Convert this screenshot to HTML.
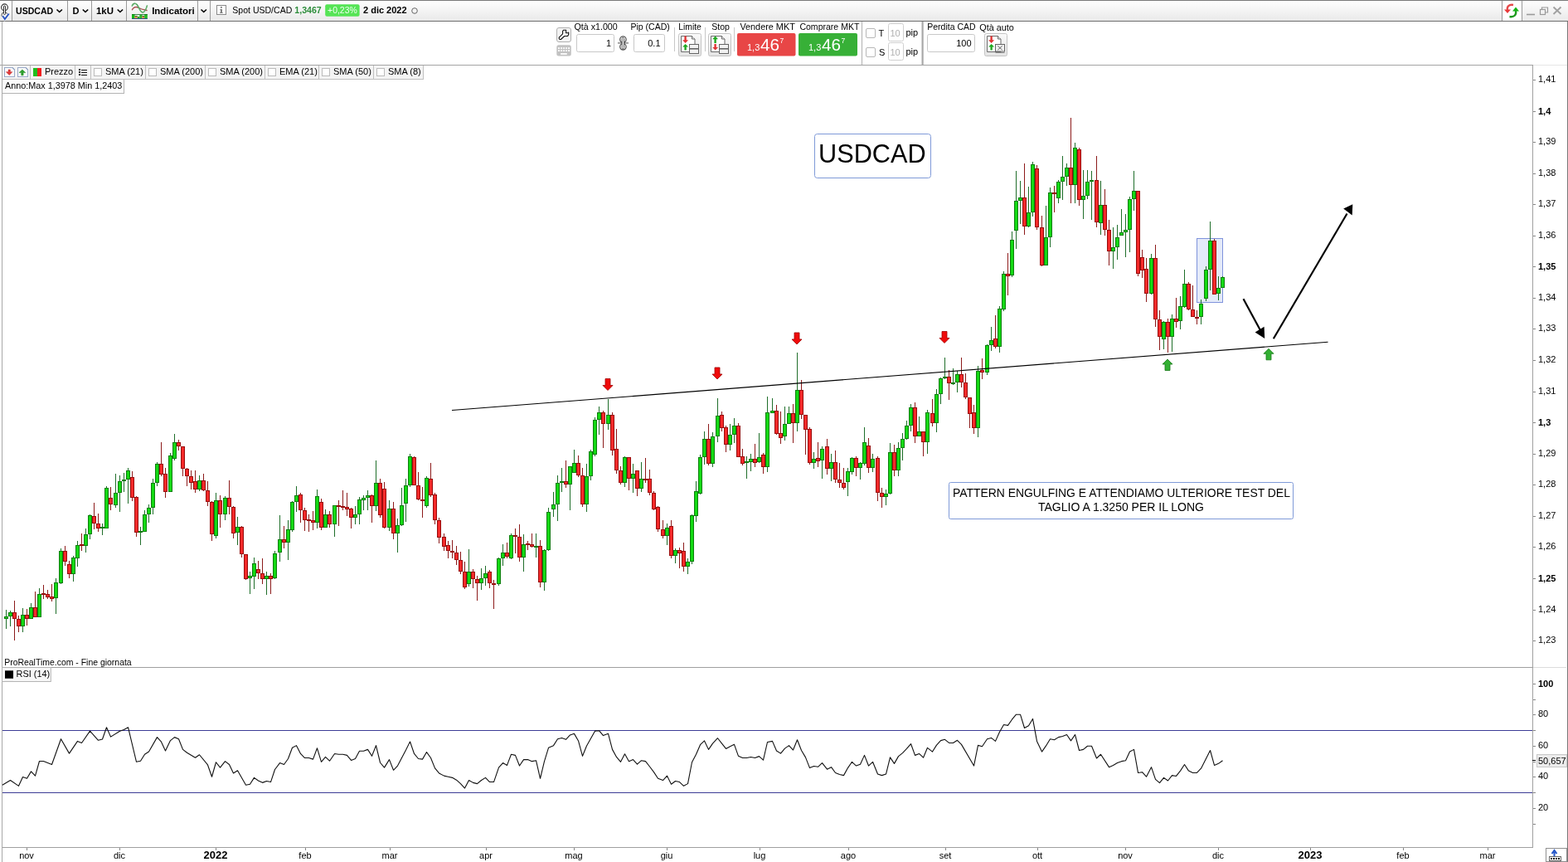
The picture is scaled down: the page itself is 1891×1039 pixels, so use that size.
<!DOCTYPE html>
<html><head><meta charset="utf-8"><title>USDCAD</title>
<style>
html,body{margin:0;padding:0;background:#fff;}
body{width:1891px;height:1039px;position:relative;overflow:hidden;font-family:"Liberation Sans",Arial,sans-serif;}
svg{position:absolute;left:0;top:0;}
text{font-family:"Liberation Sans",Arial,sans-serif;font-size:11px;fill:#000;}
.ax{font-size:11px;}
.b{font-weight:bold;}
.tm{font-size:11px;}
.tb{font-size:13px;font-weight:bold;}
.tt{font-size:11px;}
</style></head><body>
<svg class="chart" width="1891" height="1039" viewBox="0 0 1891 1039">
<g shape-rendering="crispEdges">
<path d="M0 78.5H1849" stroke="#a4a4a4"/>
<path d="M1849 78.5H1890" stroke="#e6e6e6"/>
<path d="M2.5 26V1039" stroke="#a8a8a8"/>
<path d="M1890.5 0V1039" stroke="#787878"/>
<path d="M1848.5 78V1022" stroke="#a0a0a0"/>
<path d="M3 804.5H1848" stroke="#a0a0a0"/>
<path d="M1849 804.5H1889" stroke="#dcdcdc"/>
<path d="M3 1021.5H1848" stroke="#a0a0a0"/>
<path d="M3 880.5H1848M3 955.5H1848" stroke="#3c3c96"/>
<path d="M1849 96.5 H1852" stroke="#888" /><text x="1855" y="99" class="ax">1,41</text><path d="M1849 134.5 H1852" stroke="#888" /><text x="1855" y="138" class="ax b">1,4</text><path d="M1849 171.5 H1852" stroke="#888" /><text x="1855" y="174" class="ax">1,39</text><path d="M1849 209.5 H1852" stroke="#888" /><text x="1855" y="212" class="ax">1,38</text><path d="M1849 246.5 H1852" stroke="#888" /><text x="1855" y="249" class="ax">1,37</text><path d="M1849 284.5 H1852" stroke="#888" /><text x="1855" y="287" class="ax">1,36</text><path d="M1849 321.5 H1852" stroke="#888" /><text x="1855" y="325" class="ax b">1,35</text><path d="M1849 359.5 H1852" stroke="#888" /><text x="1855" y="362" class="ax">1,34</text><path d="M1849 396.5 H1852" stroke="#888" /><text x="1855" y="399" class="ax">1,33</text><path d="M1849 434.5 H1852" stroke="#888" /><text x="1855" y="437" class="ax">1,32</text><path d="M1849 472.5 H1852" stroke="#888" /><text x="1855" y="475" class="ax">1,31</text><path d="M1849 509.5 H1852" stroke="#888" /><text x="1855" y="513" class="ax b">1,3</text><path d="M1849 547.5 H1852" stroke="#888" /><text x="1855" y="550" class="ax">1,29</text><path d="M1849 584.5 H1852" stroke="#888" /><text x="1855" y="587" class="ax">1,28</text><path d="M1849 622.5 H1852" stroke="#888" /><text x="1855" y="625" class="ax">1,27</text><path d="M1849 659.5 H1852" stroke="#888" /><text x="1855" y="662" class="ax">1,26</text><path d="M1849 697.5 H1852" stroke="#888" /><text x="1855" y="701" class="ax b">1,25</text><path d="M1849 735.5 H1852" stroke="#888" /><text x="1855" y="738" class="ax">1,24</text><path d="M1849 772.5 H1852" stroke="#888" /><text x="1855" y="775" class="ax">1,23</text><path d="M1849 993.5 H1852" stroke="#888" /><path d="M1849 974.5 H1852" stroke="#888" /><text x="1855" y="977" class="ax">20</text><path d="M1849 955.5 H1852" stroke="#888" /><path d="M1849 936.5 H1852" stroke="#888" /><text x="1855" y="939" class="ax">40</text><path d="M1849 918.5 H1852" stroke="#888" /><path d="M1849 899.5 H1852" stroke="#888" /><text x="1855" y="902" class="ax">60</text><path d="M1849 880.5 H1852" stroke="#888" /><path d="M1849 861.5 H1852" stroke="#888" /><text x="1855" y="864" class="ax">80</text><path d="M1849 843.5 H1852" stroke="#888" /><path d="M1849 824.5 H1852" stroke="#888" /><text x="1855" y="828" class="ax b">100</text><path d="M32.5 1022V1025" stroke="#888"/><text x="32" y="1035" text-anchor="middle" class="tm">nov</text><path d="M144.5 1022V1025" stroke="#888"/><text x="144" y="1035" text-anchor="middle" class="tm">dic</text><path d="M260.5 1022V1025" stroke="#888"/><text x="260" y="1035" text-anchor="middle" class="tb">2022</text><path d="M368.5 1022V1025" stroke="#888"/><text x="368" y="1035" text-anchor="middle" class="tm">feb</text><path d="M470.5 1022V1025" stroke="#888"/><text x="470" y="1035" text-anchor="middle" class="tm">mar</text><path d="M586.5 1022V1025" stroke="#888"/><text x="586" y="1035" text-anchor="middle" class="tm">apr</text><path d="M692.5 1022V1025" stroke="#888"/><text x="692" y="1035" text-anchor="middle" class="tm">mag</text><path d="M804.5 1022V1025" stroke="#888"/><text x="804" y="1035" text-anchor="middle" class="tm">giu</text><path d="M916.5 1022V1025" stroke="#888"/><text x="916" y="1035" text-anchor="middle" class="tm">lug</text><path d="M1023.5 1022V1025" stroke="#888"/><text x="1023" y="1035" text-anchor="middle" class="tm">ago</text><path d="M1140.5 1022V1025" stroke="#888"/><text x="1140" y="1035" text-anchor="middle" class="tm">set</text><path d="M1251.5 1022V1025" stroke="#888"/><text x="1251" y="1035" text-anchor="middle" class="tm">ott</text><path d="M1357.5 1022V1025" stroke="#888"/><text x="1357" y="1035" text-anchor="middle" class="tm">nov</text><path d="M1469.5 1022V1025" stroke="#888"/><text x="1469" y="1035" text-anchor="middle" class="tm">dic</text><path d="M1580.5 1022V1025" stroke="#888"/><text x="1580" y="1035" text-anchor="middle" class="tb">2023</text><path d="M1692.5 1022V1025" stroke="#888"/><text x="1692" y="1035" text-anchor="middle" class="tm">feb</text><path d="M1794.5 1022V1025" stroke="#888"/><text x="1794" y="1035" text-anchor="middle" class="tm">mar</text>
</g>
<rect x="1443.5" y="287.5" width="31" height="77" fill="#e4eaf9" stroke="#7f93dc" stroke-width="1"/>
<g shape-rendering="crispEdges"><path d="M7.5 735V758M12.5 736V755M27.5 733V762M37.5 727V746M47.5 709V744M67.5 697V740M73.5 661V704M88.5 670V701M93.5 652V683M103.5 637V666M108.5 620V650M123.5 631V645M128.5 586V637M139.5 571V612M144.5 573V617M149.5 570V593M154.5 564V607M169.5 635V657M174.5 615V641M179.5 608V630M184.5 577V620M189.5 557V586M205.5 546V593M210.5 523V555M240.5 573V592M260.5 594V649M271.5 598V627M286.5 623V657M301.5 689V716M306.5 672V710M321.5 689V717M331.5 664V698M337.5 621V677M347.5 627V675M352.5 604V641M357.5 586V617M382.5 590V637M392.5 614V636M403.5 609V647M428.5 610V632M433.5 599V632M438.5 597V615M443.5 591V615M453.5 555V616M469.5 603V640M479.5 625V666M484.5 588V634M489.5 577V629M494.5 547V587M514.5 574V612M565.5 662V707M580.5 685V711M585.5 682V706M601.5 672V706M606.5 656V682M616.5 643V674M631.5 644V689M646.5 643V672M656.5 662V712M661.5 612V664M667.5 593V623M672.5 573V628M677.5 564V593M687.5 562V615M692.5 542V570M707.5 559V617M712.5 542V579M717.5 503V550M722.5 490V524M733.5 481V518M753.5 550V587M763.5 559V594M773.5 557V593M804.5 631V657M814.5 661V679M829.5 673V692M834.5 620V680M839.5 580V629M844.5 548V596M849.5 520V560M859.5 521V563M865.5 480V533M880.5 511V543M885.5 504V534M900.5 550V577M905.5 547V568M915.5 522V558M925.5 478V569M931.5 480V498M946.5 490V531M951.5 490V511M961.5 425V520M981.5 545V565M991.5 538V577M1002.5 547V580M1022.5 564V598M1027.5 551V572M1037.5 557V578M1042.5 515V561M1052.5 547V569M1068.5 590V609M1073.5 534V596M1083.5 533V574M1088.5 522V555M1093.5 507V530M1098.5 487V520M1108.5 502V526M1118.5 494V547M1129.5 469V521M1134.5 455V487M1139.5 431V457M1149.5 444V464M1154.5 447V473M1179.5 441V527M1190.5 415V452M1195.5 394V423M1205.5 369V425M1210.5 327V375M1220.5 279V334M1225.5 206V300M1230.5 218V270M1240.5 225V274M1245.5 195V261M1261.5 248V320M1266.5 226V298M1276.5 217V245M1281.5 188V241M1286.5 197V224M1296.5 172V245M1306.5 205V264M1311.5 205V240M1316.5 206V265M1327.5 218V283M1342.5 274V324M1347.5 271V313M1352.5 252V284M1357.5 258V310M1362.5 237V304M1367.5 206V254M1388.5 306V355M1403.5 387V421M1413.5 379V424M1423.5 357V397M1428.5 325V371M1448.5 361V391M1454.5 321V363M1459.5 267V350M1469.5 333V362M1474.5 333V347" stroke="#1f6e2a" stroke-width="1" fill="none"/><path d="M17.5 724V772M22.5 742V762M32.5 734V754M42.5 713V744M52.5 705V722M57.5 711V722M62.5 704V725M78.5 658V682M83.5 676V697M98.5 643V664M113.5 606V638M118.5 619V641M133.5 587V615M159.5 568V604M164.5 598V647M194.5 533V574M199.5 564V600M215.5 530V543M220.5 538V574M225.5 564V586M230.5 567V590M235.5 567V594M245.5 571V592M250.5 580V610M255.5 604V652M265.5 597V636M276.5 579V620M281.5 610V649M291.5 634V672M296.5 668V699M311.5 676V698M316.5 673V704M326.5 691V716M342.5 634V661M362.5 594V630M367.5 612V640M372.5 620V641M377.5 616V639M387.5 601V639M397.5 616V636M408.5 603V634M413.5 591V615M418.5 594V622M423.5 612V637M448.5 596V630M458.5 577V624M463.5 581V637M474.5 605V650M499.5 550V585M504.5 569V603M509.5 587V624M519.5 558V599M524.5 594V632M529.5 624V655M535.5 643V664M540.5 652V673M545.5 651V673M550.5 658V681M555.5 665V692M560.5 677V710M570.5 686V709M575.5 694V724M590.5 687V709M595.5 699V734M611.5 654V673M621.5 637V667M626.5 632V677M636.5 652V663M641.5 643V660M651.5 651V708M682.5 555V588M697.5 549V575M702.5 564V611M727.5 495V540M738.5 497V549M743.5 517V571M748.5 562V584M758.5 551V591M768.5 567V598M778.5 552V582M783.5 566V597M788.5 592V615M793.5 610V641M799.5 627V649M809.5 627V673M819.5 660V685M824.5 654V689M854.5 511V561M870.5 496V520M875.5 513V545M890.5 510V551M895.5 541V561M910.5 535V563M920.5 546V571M936.5 488V524M941.5 496V535M956.5 487V534M966.5 458V505M971.5 500V548M976.5 515V560M986.5 533V563M997.5 529V572M1007.5 543V582M1012.5 558V588M1017.5 564V590M1032.5 550V574M1047.5 528V570M1058.5 550V604M1063.5 588V612M1078.5 536V574M1103.5 485V534M1113.5 520V550M1124.5 481V514M1144.5 446V482M1159.5 431V467M1164.5 450V481M1169.5 479V516M1174.5 488V523M1184.5 432V457M1200.5 380V420M1215.5 305V356M1235.5 197V283M1250.5 199V277M1256.5 260V321M1271.5 224V256M1291.5 142V245M1301.5 178V248M1322.5 188V274M1332.5 228V284M1337.5 265V320M1372.5 230V333M1377.5 301V335M1382.5 311V364M1393.5 295V394M1398.5 374V422M1408.5 384V425M1418.5 359V395M1433.5 340V374M1438.5 344V382M1443.5 374V391M1464.5 288V355" stroke="#8c1a1a" stroke-width="1" fill="none"/><rect x="5" y="743" width="5" height="3" fill="#0e7e0e"/><rect x="6" y="744" width="3" height="1" fill="#14da14"/><rect x="10" y="738" width="5" height="5" fill="#0e7e0e"/><rect x="11" y="739" width="3" height="3" fill="#14da14"/><rect x="15" y="738" width="5" height="8" fill="#980c0c"/><rect x="16" y="739" width="3" height="6" fill="#f42a2a"/><rect x="20" y="746" width="5" height="9" fill="#980c0c"/><rect x="21" y="747" width="3" height="7" fill="#f42a2a"/><rect x="25" y="741" width="5" height="14" fill="#0e7e0e"/><rect x="26" y="742" width="3" height="12" fill="#14da14"/><rect x="30" y="741" width="5" height="5" fill="#980c0c"/><rect x="31" y="742" width="3" height="3" fill="#f42a2a"/><rect x="35" y="732" width="5" height="14" fill="#0e7e0e"/><rect x="36" y="733" width="3" height="12" fill="#14da14"/><rect x="40" y="732" width="5" height="12" fill="#980c0c"/><rect x="41" y="733" width="3" height="10" fill="#f42a2a"/><rect x="45" y="716" width="5" height="28" fill="#0e7e0e"/><rect x="46" y="717" width="3" height="26" fill="#14da14"/><rect x="50" y="715" width="5" height="2" fill="#980c0c"/><rect x="55" y="716" width="5" height="4" fill="#980c0c"/><rect x="56" y="717" width="3" height="2" fill="#f42a2a"/><rect x="60" y="719" width="5" height="3" fill="#980c0c"/><rect x="61" y="720" width="3" height="1" fill="#f42a2a"/><rect x="65" y="702" width="5" height="19" fill="#0e7e0e"/><rect x="66" y="703" width="3" height="17" fill="#14da14"/><rect x="71" y="664" width="5" height="39" fill="#0e7e0e"/><rect x="72" y="665" width="3" height="37" fill="#14da14"/><rect x="76" y="664" width="5" height="13" fill="#980c0c"/><rect x="77" y="665" width="3" height="11" fill="#f42a2a"/><rect x="81" y="680" width="5" height="12" fill="#980c0c"/><rect x="82" y="681" width="3" height="10" fill="#f42a2a"/><rect x="86" y="672" width="5" height="20" fill="#0e7e0e"/><rect x="87" y="673" width="3" height="18" fill="#14da14"/><rect x="91" y="657" width="5" height="16" fill="#0e7e0e"/><rect x="92" y="658" width="3" height="14" fill="#14da14"/><rect x="96" y="656" width="5" height="2" fill="#980c0c"/><rect x="101" y="644" width="5" height="14" fill="#0e7e0e"/><rect x="102" y="645" width="3" height="12" fill="#14da14"/><rect x="106" y="621" width="5" height="23" fill="#0e7e0e"/><rect x="107" y="622" width="3" height="21" fill="#14da14"/><rect x="111" y="622" width="5" height="9" fill="#980c0c"/><rect x="112" y="623" width="3" height="7" fill="#f42a2a"/><rect x="116" y="631" width="5" height="6" fill="#980c0c"/><rect x="117" y="632" width="3" height="4" fill="#f42a2a"/><rect x="121" y="635" width="5" height="2" fill="#0e7e0e"/><rect x="126" y="588" width="5" height="49" fill="#0e7e0e"/><rect x="127" y="589" width="3" height="47" fill="#14da14"/><rect x="131" y="600" width="5" height="8" fill="#980c0c"/><rect x="132" y="601" width="3" height="6" fill="#f42a2a"/><rect x="137" y="594" width="5" height="15" fill="#0e7e0e"/><rect x="138" y="595" width="3" height="13" fill="#14da14"/><rect x="142" y="580" width="5" height="14" fill="#0e7e0e"/><rect x="143" y="581" width="3" height="12" fill="#14da14"/><rect x="147" y="578" width="5" height="2" fill="#0e7e0e"/><rect x="152" y="567" width="5" height="11" fill="#0e7e0e"/><rect x="153" y="568" width="3" height="9" fill="#14da14"/><rect x="157" y="575" width="5" height="25" fill="#980c0c"/><rect x="158" y="576" width="3" height="23" fill="#f42a2a"/><rect x="162" y="599" width="5" height="43" fill="#980c0c"/><rect x="163" y="600" width="3" height="41" fill="#f42a2a"/><rect x="167" y="640" width="5" height="2" fill="#0e7e0e"/><rect x="172" y="620" width="5" height="21" fill="#0e7e0e"/><rect x="173" y="621" width="3" height="19" fill="#14da14"/><rect x="177" y="612" width="5" height="8" fill="#0e7e0e"/><rect x="178" y="613" width="3" height="6" fill="#14da14"/><rect x="182" y="582" width="5" height="30" fill="#0e7e0e"/><rect x="183" y="583" width="3" height="28" fill="#14da14"/><rect x="187" y="559" width="5" height="23" fill="#0e7e0e"/><rect x="188" y="560" width="3" height="21" fill="#14da14"/><rect x="192" y="559" width="5" height="13" fill="#980c0c"/><rect x="193" y="560" width="3" height="11" fill="#f42a2a"/><rect x="197" y="571" width="5" height="22" fill="#980c0c"/><rect x="198" y="572" width="3" height="20" fill="#f42a2a"/><rect x="203" y="549" width="5" height="44" fill="#0e7e0e"/><rect x="204" y="550" width="3" height="42" fill="#14da14"/><rect x="208" y="533" width="5" height="20" fill="#0e7e0e"/><rect x="209" y="534" width="3" height="18" fill="#14da14"/><rect x="213" y="533" width="5" height="5" fill="#980c0c"/><rect x="214" y="534" width="3" height="3" fill="#f42a2a"/><rect x="218" y="538" width="5" height="27" fill="#980c0c"/><rect x="219" y="539" width="3" height="25" fill="#f42a2a"/><rect x="223" y="565" width="5" height="9" fill="#980c0c"/><rect x="224" y="566" width="3" height="7" fill="#f42a2a"/><rect x="228" y="574" width="5" height="8" fill="#980c0c"/><rect x="229" y="575" width="3" height="6" fill="#f42a2a"/><rect x="233" y="580" width="5" height="10" fill="#980c0c"/><rect x="234" y="581" width="3" height="8" fill="#f42a2a"/><rect x="238" y="579" width="5" height="11" fill="#0e7e0e"/><rect x="239" y="580" width="3" height="9" fill="#14da14"/><rect x="243" y="579" width="5" height="12" fill="#980c0c"/><rect x="244" y="580" width="3" height="10" fill="#f42a2a"/><rect x="248" y="591" width="5" height="14" fill="#980c0c"/><rect x="249" y="592" width="3" height="12" fill="#f42a2a"/><rect x="253" y="605" width="5" height="39" fill="#980c0c"/><rect x="254" y="606" width="3" height="37" fill="#f42a2a"/><rect x="258" y="603" width="5" height="43" fill="#0e7e0e"/><rect x="259" y="604" width="3" height="41" fill="#14da14"/><rect x="263" y="603" width="5" height="17" fill="#980c0c"/><rect x="264" y="604" width="3" height="15" fill="#f42a2a"/><rect x="269" y="600" width="5" height="20" fill="#0e7e0e"/><rect x="270" y="601" width="3" height="18" fill="#14da14"/><rect x="274" y="600" width="5" height="11" fill="#980c0c"/><rect x="275" y="601" width="3" height="9" fill="#f42a2a"/><rect x="279" y="611" width="5" height="32" fill="#980c0c"/><rect x="280" y="612" width="3" height="30" fill="#f42a2a"/><rect x="284" y="635" width="5" height="7" fill="#0e7e0e"/><rect x="285" y="636" width="3" height="5" fill="#14da14"/><rect x="289" y="635" width="5" height="33" fill="#980c0c"/><rect x="290" y="636" width="3" height="31" fill="#f42a2a"/><rect x="294" y="668" width="5" height="30" fill="#980c0c"/><rect x="295" y="669" width="3" height="28" fill="#f42a2a"/><rect x="299" y="694" width="5" height="3" fill="#0e7e0e"/><rect x="300" y="695" width="3" height="1" fill="#14da14"/><rect x="304" y="679" width="5" height="16" fill="#0e7e0e"/><rect x="305" y="680" width="3" height="14" fill="#14da14"/><rect x="309" y="686" width="5" height="5" fill="#980c0c"/><rect x="310" y="687" width="3" height="3" fill="#f42a2a"/><rect x="314" y="691" width="5" height="7" fill="#980c0c"/><rect x="315" y="692" width="3" height="5" fill="#f42a2a"/><rect x="319" y="694" width="5" height="4" fill="#0e7e0e"/><rect x="320" y="695" width="3" height="2" fill="#14da14"/><rect x="324" y="694" width="5" height="4" fill="#980c0c"/><rect x="325" y="695" width="3" height="2" fill="#f42a2a"/><rect x="329" y="667" width="5" height="30" fill="#0e7e0e"/><rect x="330" y="668" width="3" height="28" fill="#14da14"/><rect x="335" y="650" width="5" height="16" fill="#0e7e0e"/><rect x="336" y="651" width="3" height="14" fill="#14da14"/><rect x="340" y="650" width="5" height="4" fill="#980c0c"/><rect x="341" y="651" width="3" height="2" fill="#f42a2a"/><rect x="345" y="638" width="5" height="16" fill="#0e7e0e"/><rect x="346" y="639" width="3" height="14" fill="#14da14"/><rect x="350" y="605" width="5" height="34" fill="#0e7e0e"/><rect x="351" y="606" width="3" height="32" fill="#14da14"/><rect x="355" y="597" width="5" height="8" fill="#0e7e0e"/><rect x="356" y="598" width="3" height="6" fill="#14da14"/><rect x="360" y="596" width="5" height="19" fill="#980c0c"/><rect x="361" y="597" width="3" height="17" fill="#f42a2a"/><rect x="365" y="615" width="5" height="12" fill="#980c0c"/><rect x="366" y="616" width="3" height="10" fill="#f42a2a"/><rect x="370" y="626" width="5" height="2" fill="#980c0c"/><rect x="375" y="627" width="5" height="3" fill="#980c0c"/><rect x="376" y="628" width="3" height="1" fill="#f42a2a"/><rect x="380" y="598" width="5" height="32" fill="#0e7e0e"/><rect x="381" y="599" width="3" height="30" fill="#14da14"/><rect x="385" y="605" width="5" height="31" fill="#980c0c"/><rect x="386" y="606" width="3" height="29" fill="#f42a2a"/><rect x="390" y="620" width="5" height="16" fill="#0e7e0e"/><rect x="391" y="621" width="3" height="14" fill="#14da14"/><rect x="395" y="620" width="5" height="12" fill="#980c0c"/><rect x="396" y="621" width="3" height="10" fill="#f42a2a"/><rect x="401" y="609" width="5" height="23" fill="#0e7e0e"/><rect x="402" y="610" width="3" height="21" fill="#14da14"/><rect x="406" y="609" width="5" height="2" fill="#980c0c"/><rect x="411" y="610" width="5" height="2" fill="#980c0c"/><rect x="416" y="611" width="5" height="3" fill="#980c0c"/><rect x="417" y="612" width="3" height="1" fill="#f42a2a"/><rect x="421" y="613" width="5" height="11" fill="#980c0c"/><rect x="422" y="614" width="3" height="9" fill="#f42a2a"/><rect x="426" y="620" width="5" height="4" fill="#0e7e0e"/><rect x="427" y="621" width="3" height="2" fill="#14da14"/><rect x="431" y="602" width="5" height="18" fill="#0e7e0e"/><rect x="432" y="603" width="3" height="16" fill="#14da14"/><rect x="436" y="600" width="5" height="3" fill="#0e7e0e"/><rect x="437" y="601" width="3" height="1" fill="#14da14"/><rect x="441" y="597" width="5" height="3" fill="#0e7e0e"/><rect x="442" y="598" width="3" height="1" fill="#14da14"/><rect x="446" y="597" width="5" height="13" fill="#980c0c"/><rect x="447" y="598" width="3" height="11" fill="#f42a2a"/><rect x="451" y="582" width="5" height="28" fill="#0e7e0e"/><rect x="452" y="583" width="3" height="26" fill="#14da14"/><rect x="456" y="582" width="5" height="39" fill="#980c0c"/><rect x="457" y="583" width="3" height="37" fill="#f42a2a"/><rect x="461" y="589" width="5" height="47" fill="#980c0c"/><rect x="462" y="590" width="3" height="45" fill="#f42a2a"/><rect x="467" y="613" width="5" height="23" fill="#0e7e0e"/><rect x="468" y="614" width="3" height="21" fill="#14da14"/><rect x="472" y="613" width="5" height="30" fill="#980c0c"/><rect x="473" y="614" width="3" height="28" fill="#f42a2a"/><rect x="477" y="633" width="5" height="10" fill="#0e7e0e"/><rect x="478" y="634" width="3" height="8" fill="#14da14"/><rect x="482" y="609" width="5" height="24" fill="#0e7e0e"/><rect x="483" y="610" width="3" height="22" fill="#14da14"/><rect x="487" y="585" width="5" height="22" fill="#0e7e0e"/><rect x="488" y="586" width="3" height="20" fill="#14da14"/><rect x="492" y="550" width="5" height="35" fill="#0e7e0e"/><rect x="493" y="551" width="3" height="33" fill="#14da14"/><rect x="497" y="551" width="5" height="34" fill="#980c0c"/><rect x="498" y="552" width="3" height="32" fill="#f42a2a"/><rect x="502" y="585" width="5" height="17" fill="#980c0c"/><rect x="503" y="586" width="3" height="15" fill="#f42a2a"/><rect x="507" y="602" width="5" height="2" fill="#980c0c"/><rect x="512" y="576" width="5" height="34" fill="#0e7e0e"/><rect x="513" y="577" width="3" height="32" fill="#14da14"/><rect x="517" y="577" width="5" height="20" fill="#980c0c"/><rect x="518" y="578" width="3" height="18" fill="#f42a2a"/><rect x="522" y="596" width="5" height="31" fill="#980c0c"/><rect x="523" y="597" width="3" height="29" fill="#f42a2a"/><rect x="527" y="627" width="5" height="21" fill="#980c0c"/><rect x="528" y="628" width="3" height="19" fill="#f42a2a"/><rect x="533" y="647" width="5" height="12" fill="#980c0c"/><rect x="534" y="648" width="3" height="10" fill="#f42a2a"/><rect x="538" y="657" width="5" height="7" fill="#980c0c"/><rect x="539" y="658" width="3" height="5" fill="#f42a2a"/><rect x="543" y="664" width="5" height="2" fill="#980c0c"/><rect x="548" y="666" width="5" height="9" fill="#980c0c"/><rect x="549" y="667" width="3" height="7" fill="#f42a2a"/><rect x="553" y="675" width="5" height="14" fill="#980c0c"/><rect x="554" y="676" width="3" height="12" fill="#f42a2a"/><rect x="558" y="689" width="5" height="19" fill="#980c0c"/><rect x="559" y="690" width="3" height="17" fill="#f42a2a"/><rect x="563" y="689" width="5" height="15" fill="#0e7e0e"/><rect x="564" y="690" width="3" height="13" fill="#14da14"/><rect x="568" y="689" width="5" height="9" fill="#980c0c"/><rect x="569" y="690" width="3" height="7" fill="#f42a2a"/><rect x="573" y="698" width="5" height="5" fill="#980c0c"/><rect x="574" y="699" width="3" height="3" fill="#f42a2a"/><rect x="578" y="697" width="5" height="6" fill="#0e7e0e"/><rect x="579" y="698" width="3" height="4" fill="#14da14"/><rect x="583" y="691" width="5" height="6" fill="#0e7e0e"/><rect x="584" y="692" width="3" height="4" fill="#14da14"/><rect x="588" y="689" width="5" height="14" fill="#980c0c"/><rect x="589" y="690" width="3" height="12" fill="#f42a2a"/><rect x="593" y="703" width="5" height="2" fill="#980c0c"/><rect x="599" y="673" width="5" height="31" fill="#0e7e0e"/><rect x="600" y="674" width="3" height="29" fill="#14da14"/><rect x="604" y="666" width="5" height="7" fill="#0e7e0e"/><rect x="605" y="667" width="3" height="5" fill="#14da14"/><rect x="609" y="666" width="5" height="5" fill="#980c0c"/><rect x="610" y="667" width="3" height="3" fill="#f42a2a"/><rect x="614" y="645" width="5" height="28" fill="#0e7e0e"/><rect x="615" y="646" width="3" height="26" fill="#14da14"/><rect x="619" y="645" width="5" height="2" fill="#980c0c"/><rect x="624" y="647" width="5" height="25" fill="#980c0c"/><rect x="625" y="648" width="3" height="23" fill="#f42a2a"/><rect x="629" y="656" width="5" height="16" fill="#0e7e0e"/><rect x="630" y="657" width="3" height="14" fill="#14da14"/><rect x="634" y="655" width="5" height="2" fill="#980c0c"/><rect x="639" y="656" width="5" height="3" fill="#980c0c"/><rect x="640" y="657" width="3" height="1" fill="#f42a2a"/><rect x="644" y="658" width="5" height="2" fill="#0e7e0e"/><rect x="649" y="658" width="5" height="44" fill="#980c0c"/><rect x="650" y="659" width="3" height="42" fill="#f42a2a"/><rect x="654" y="663" width="5" height="39" fill="#0e7e0e"/><rect x="655" y="664" width="3" height="37" fill="#14da14"/><rect x="659" y="617" width="5" height="46" fill="#0e7e0e"/><rect x="660" y="618" width="3" height="44" fill="#14da14"/><rect x="665" y="608" width="5" height="6" fill="#0e7e0e"/><rect x="666" y="609" width="3" height="4" fill="#14da14"/><rect x="670" y="582" width="5" height="26" fill="#0e7e0e"/><rect x="671" y="583" width="3" height="24" fill="#14da14"/><rect x="675" y="580" width="5" height="2" fill="#0e7e0e"/><rect x="680" y="580" width="5" height="4" fill="#980c0c"/><rect x="681" y="581" width="3" height="2" fill="#f42a2a"/><rect x="685" y="562" width="5" height="22" fill="#0e7e0e"/><rect x="686" y="563" width="3" height="20" fill="#14da14"/><rect x="690" y="558" width="5" height="12" fill="#0e7e0e"/><rect x="691" y="559" width="3" height="10" fill="#14da14"/><rect x="695" y="558" width="5" height="15" fill="#980c0c"/><rect x="696" y="559" width="3" height="13" fill="#f42a2a"/><rect x="700" y="573" width="5" height="35" fill="#980c0c"/><rect x="701" y="574" width="3" height="33" fill="#f42a2a"/><rect x="705" y="574" width="5" height="34" fill="#0e7e0e"/><rect x="706" y="575" width="3" height="32" fill="#14da14"/><rect x="710" y="544" width="5" height="30" fill="#0e7e0e"/><rect x="711" y="545" width="3" height="28" fill="#14da14"/><rect x="715" y="506" width="5" height="42" fill="#0e7e0e"/><rect x="716" y="507" width="3" height="40" fill="#14da14"/><rect x="720" y="497" width="5" height="9" fill="#0e7e0e"/><rect x="721" y="498" width="3" height="7" fill="#14da14"/><rect x="725" y="497" width="5" height="14" fill="#980c0c"/><rect x="726" y="498" width="3" height="12" fill="#f42a2a"/><rect x="731" y="500" width="5" height="11" fill="#0e7e0e"/><rect x="732" y="501" width="3" height="9" fill="#14da14"/><rect x="736" y="500" width="5" height="43" fill="#980c0c"/><rect x="737" y="501" width="3" height="41" fill="#f42a2a"/><rect x="741" y="541" width="5" height="26" fill="#980c0c"/><rect x="742" y="542" width="3" height="24" fill="#f42a2a"/><rect x="746" y="567" width="5" height="15" fill="#980c0c"/><rect x="747" y="568" width="3" height="13" fill="#f42a2a"/><rect x="751" y="551" width="5" height="31" fill="#0e7e0e"/><rect x="752" y="552" width="3" height="29" fill="#14da14"/><rect x="756" y="551" width="5" height="26" fill="#980c0c"/><rect x="757" y="552" width="3" height="24" fill="#f42a2a"/><rect x="761" y="571" width="5" height="6" fill="#0e7e0e"/><rect x="762" y="572" width="3" height="4" fill="#14da14"/><rect x="766" y="567" width="5" height="22" fill="#980c0c"/><rect x="767" y="568" width="3" height="20" fill="#f42a2a"/><rect x="771" y="577" width="5" height="12" fill="#0e7e0e"/><rect x="772" y="578" width="3" height="10" fill="#14da14"/><rect x="776" y="577" width="5" height="2" fill="#980c0c"/><rect x="781" y="577" width="5" height="17" fill="#980c0c"/><rect x="782" y="578" width="3" height="15" fill="#f42a2a"/><rect x="786" y="594" width="5" height="20" fill="#980c0c"/><rect x="787" y="595" width="3" height="18" fill="#f42a2a"/><rect x="791" y="611" width="5" height="27" fill="#980c0c"/><rect x="792" y="612" width="3" height="25" fill="#f42a2a"/><rect x="797" y="638" width="5" height="8" fill="#980c0c"/><rect x="798" y="639" width="3" height="6" fill="#f42a2a"/><rect x="802" y="636" width="5" height="10" fill="#0e7e0e"/><rect x="803" y="637" width="3" height="8" fill="#14da14"/><rect x="807" y="634" width="5" height="36" fill="#980c0c"/><rect x="808" y="635" width="3" height="34" fill="#f42a2a"/><rect x="812" y="663" width="5" height="7" fill="#0e7e0e"/><rect x="813" y="664" width="3" height="5" fill="#14da14"/><rect x="817" y="663" width="5" height="4" fill="#980c0c"/><rect x="818" y="664" width="3" height="2" fill="#f42a2a"/><rect x="822" y="664" width="5" height="19" fill="#980c0c"/><rect x="823" y="665" width="3" height="17" fill="#f42a2a"/><rect x="827" y="677" width="5" height="6" fill="#0e7e0e"/><rect x="828" y="678" width="3" height="4" fill="#14da14"/><rect x="832" y="621" width="5" height="56" fill="#0e7e0e"/><rect x="833" y="622" width="3" height="54" fill="#14da14"/><rect x="837" y="592" width="5" height="30" fill="#0e7e0e"/><rect x="838" y="593" width="3" height="28" fill="#14da14"/><rect x="842" y="551" width="5" height="44" fill="#0e7e0e"/><rect x="843" y="552" width="3" height="42" fill="#14da14"/><rect x="847" y="529" width="5" height="22" fill="#0e7e0e"/><rect x="848" y="530" width="3" height="20" fill="#14da14"/><rect x="852" y="529" width="5" height="30" fill="#980c0c"/><rect x="853" y="530" width="3" height="28" fill="#f42a2a"/><rect x="857" y="526" width="5" height="33" fill="#0e7e0e"/><rect x="858" y="527" width="3" height="31" fill="#14da14"/><rect x="863" y="501" width="5" height="25" fill="#0e7e0e"/><rect x="864" y="502" width="3" height="23" fill="#14da14"/><rect x="868" y="500" width="5" height="16" fill="#980c0c"/><rect x="869" y="501" width="3" height="14" fill="#f42a2a"/><rect x="873" y="515" width="5" height="21" fill="#980c0c"/><rect x="874" y="516" width="3" height="19" fill="#f42a2a"/><rect x="878" y="524" width="5" height="12" fill="#0e7e0e"/><rect x="879" y="525" width="3" height="10" fill="#14da14"/><rect x="883" y="513" width="5" height="11" fill="#0e7e0e"/><rect x="884" y="514" width="3" height="9" fill="#14da14"/><rect x="888" y="513" width="5" height="38" fill="#980c0c"/><rect x="889" y="514" width="3" height="36" fill="#f42a2a"/><rect x="893" y="550" width="5" height="9" fill="#980c0c"/><rect x="894" y="551" width="3" height="7" fill="#f42a2a"/><rect x="898" y="556" width="5" height="2" fill="#0e7e0e"/><rect x="903" y="553" width="5" height="4" fill="#0e7e0e"/><rect x="904" y="554" width="3" height="2" fill="#14da14"/><rect x="908" y="553" width="5" height="5" fill="#980c0c"/><rect x="909" y="554" width="3" height="3" fill="#f42a2a"/><rect x="913" y="551" width="5" height="6" fill="#0e7e0e"/><rect x="914" y="552" width="3" height="4" fill="#14da14"/><rect x="918" y="548" width="5" height="15" fill="#980c0c"/><rect x="919" y="549" width="3" height="13" fill="#f42a2a"/><rect x="923" y="497" width="5" height="66" fill="#0e7e0e"/><rect x="924" y="498" width="3" height="64" fill="#14da14"/><rect x="929" y="495" width="5" height="3" fill="#0e7e0e"/><rect x="930" y="496" width="3" height="1" fill="#14da14"/><rect x="934" y="495" width="5" height="28" fill="#980c0c"/><rect x="935" y="496" width="3" height="26" fill="#f42a2a"/><rect x="939" y="522" width="5" height="6" fill="#980c0c"/><rect x="940" y="523" width="3" height="4" fill="#f42a2a"/><rect x="944" y="511" width="5" height="15" fill="#0e7e0e"/><rect x="945" y="512" width="3" height="13" fill="#14da14"/><rect x="949" y="498" width="5" height="13" fill="#0e7e0e"/><rect x="950" y="499" width="3" height="11" fill="#14da14"/><rect x="954" y="498" width="5" height="12" fill="#980c0c"/><rect x="955" y="499" width="3" height="10" fill="#f42a2a"/><rect x="959" y="470" width="5" height="40" fill="#0e7e0e"/><rect x="960" y="471" width="3" height="38" fill="#14da14"/><rect x="964" y="470" width="5" height="30" fill="#980c0c"/><rect x="965" y="471" width="3" height="28" fill="#f42a2a"/><rect x="969" y="500" width="5" height="18" fill="#980c0c"/><rect x="970" y="501" width="3" height="16" fill="#f42a2a"/><rect x="974" y="517" width="5" height="41" fill="#980c0c"/><rect x="975" y="518" width="3" height="39" fill="#f42a2a"/><rect x="979" y="553" width="5" height="5" fill="#0e7e0e"/><rect x="980" y="554" width="3" height="3" fill="#14da14"/><rect x="984" y="552" width="5" height="4" fill="#980c0c"/><rect x="985" y="553" width="3" height="2" fill="#f42a2a"/><rect x="989" y="541" width="5" height="14" fill="#0e7e0e"/><rect x="990" y="542" width="3" height="12" fill="#14da14"/><rect x="995" y="538" width="5" height="27" fill="#980c0c"/><rect x="996" y="539" width="3" height="25" fill="#f42a2a"/><rect x="1000" y="557" width="5" height="8" fill="#0e7e0e"/><rect x="1001" y="558" width="3" height="6" fill="#14da14"/><rect x="1005" y="557" width="5" height="21" fill="#980c0c"/><rect x="1006" y="558" width="3" height="19" fill="#f42a2a"/><rect x="1010" y="578" width="5" height="4" fill="#980c0c"/><rect x="1011" y="579" width="3" height="2" fill="#f42a2a"/><rect x="1015" y="582" width="5" height="6" fill="#980c0c"/><rect x="1016" y="583" width="3" height="4" fill="#f42a2a"/><rect x="1020" y="568" width="5" height="13" fill="#0e7e0e"/><rect x="1021" y="569" width="3" height="11" fill="#14da14"/><rect x="1025" y="552" width="5" height="17" fill="#0e7e0e"/><rect x="1026" y="553" width="3" height="15" fill="#14da14"/><rect x="1030" y="552" width="5" height="12" fill="#980c0c"/><rect x="1031" y="553" width="3" height="10" fill="#f42a2a"/><rect x="1035" y="558" width="5" height="6" fill="#0e7e0e"/><rect x="1036" y="559" width="3" height="4" fill="#14da14"/><rect x="1040" y="533" width="5" height="26" fill="#0e7e0e"/><rect x="1041" y="534" width="3" height="24" fill="#14da14"/><rect x="1045" y="537" width="5" height="27" fill="#980c0c"/><rect x="1046" y="538" width="3" height="25" fill="#f42a2a"/><rect x="1050" y="553" width="5" height="11" fill="#0e7e0e"/><rect x="1051" y="554" width="3" height="9" fill="#14da14"/><rect x="1056" y="552" width="5" height="42" fill="#980c0c"/><rect x="1057" y="553" width="3" height="40" fill="#f42a2a"/><rect x="1061" y="594" width="5" height="5" fill="#980c0c"/><rect x="1062" y="595" width="3" height="3" fill="#f42a2a"/><rect x="1066" y="595" width="5" height="4" fill="#0e7e0e"/><rect x="1067" y="596" width="3" height="2" fill="#14da14"/><rect x="1071" y="545" width="5" height="50" fill="#0e7e0e"/><rect x="1072" y="546" width="3" height="48" fill="#14da14"/><rect x="1076" y="545" width="5" height="22" fill="#980c0c"/><rect x="1077" y="546" width="3" height="20" fill="#f42a2a"/><rect x="1081" y="540" width="5" height="27" fill="#0e7e0e"/><rect x="1082" y="541" width="3" height="25" fill="#14da14"/><rect x="1086" y="529" width="5" height="11" fill="#0e7e0e"/><rect x="1087" y="530" width="3" height="9" fill="#14da14"/><rect x="1091" y="513" width="5" height="16" fill="#0e7e0e"/><rect x="1092" y="514" width="3" height="14" fill="#14da14"/><rect x="1096" y="491" width="5" height="22" fill="#0e7e0e"/><rect x="1097" y="492" width="3" height="20" fill="#14da14"/><rect x="1101" y="491" width="5" height="35" fill="#980c0c"/><rect x="1102" y="492" width="3" height="33" fill="#f42a2a"/><rect x="1106" y="520" width="5" height="6" fill="#0e7e0e"/><rect x="1107" y="521" width="3" height="4" fill="#14da14"/><rect x="1111" y="520" width="5" height="13" fill="#980c0c"/><rect x="1112" y="521" width="3" height="11" fill="#f42a2a"/><rect x="1116" y="497" width="5" height="36" fill="#0e7e0e"/><rect x="1117" y="498" width="3" height="34" fill="#14da14"/><rect x="1122" y="498" width="5" height="12" fill="#980c0c"/><rect x="1123" y="499" width="3" height="10" fill="#f42a2a"/><rect x="1127" y="475" width="5" height="35" fill="#0e7e0e"/><rect x="1128" y="476" width="3" height="33" fill="#14da14"/><rect x="1132" y="456" width="5" height="19" fill="#0e7e0e"/><rect x="1133" y="457" width="3" height="17" fill="#14da14"/><rect x="1137" y="454" width="5" height="2" fill="#0e7e0e"/><rect x="1142" y="454" width="5" height="8" fill="#980c0c"/><rect x="1143" y="455" width="3" height="6" fill="#f42a2a"/><rect x="1147" y="461" width="5" height="2" fill="#0e7e0e"/><rect x="1152" y="451" width="5" height="10" fill="#0e7e0e"/><rect x="1153" y="452" width="3" height="8" fill="#14da14"/><rect x="1157" y="451" width="5" height="10" fill="#980c0c"/><rect x="1158" y="452" width="3" height="8" fill="#f42a2a"/><rect x="1162" y="461" width="5" height="18" fill="#980c0c"/><rect x="1163" y="462" width="3" height="16" fill="#f42a2a"/><rect x="1167" y="479" width="5" height="20" fill="#980c0c"/><rect x="1168" y="480" width="3" height="18" fill="#f42a2a"/><rect x="1172" y="497" width="5" height="19" fill="#980c0c"/><rect x="1173" y="498" width="3" height="17" fill="#f42a2a"/><rect x="1177" y="447" width="5" height="69" fill="#0e7e0e"/><rect x="1178" y="448" width="3" height="67" fill="#14da14"/><rect x="1182" y="446" width="5" height="3" fill="#980c0c"/><rect x="1183" y="447" width="3" height="1" fill="#f42a2a"/><rect x="1188" y="416" width="5" height="33" fill="#0e7e0e"/><rect x="1189" y="417" width="3" height="31" fill="#14da14"/><rect x="1193" y="410" width="5" height="6" fill="#0e7e0e"/><rect x="1194" y="411" width="3" height="4" fill="#14da14"/><rect x="1198" y="408" width="5" height="10" fill="#980c0c"/><rect x="1199" y="409" width="3" height="8" fill="#f42a2a"/><rect x="1203" y="372" width="5" height="46" fill="#0e7e0e"/><rect x="1204" y="373" width="3" height="44" fill="#14da14"/><rect x="1208" y="330" width="5" height="43" fill="#0e7e0e"/><rect x="1209" y="331" width="3" height="41" fill="#14da14"/><rect x="1213" y="330" width="5" height="3" fill="#980c0c"/><rect x="1214" y="331" width="3" height="1" fill="#f42a2a"/><rect x="1218" y="289" width="5" height="43" fill="#0e7e0e"/><rect x="1219" y="290" width="3" height="41" fill="#14da14"/><rect x="1223" y="242" width="5" height="36" fill="#0e7e0e"/><rect x="1224" y="243" width="3" height="34" fill="#14da14"/><rect x="1228" y="238" width="5" height="4" fill="#0e7e0e"/><rect x="1229" y="239" width="3" height="2" fill="#14da14"/><rect x="1233" y="238" width="5" height="35" fill="#980c0c"/><rect x="1234" y="239" width="3" height="33" fill="#f42a2a"/><rect x="1238" y="256" width="5" height="17" fill="#0e7e0e"/><rect x="1239" y="257" width="3" height="15" fill="#14da14"/><rect x="1243" y="198" width="5" height="58" fill="#0e7e0e"/><rect x="1244" y="199" width="3" height="56" fill="#14da14"/><rect x="1248" y="203" width="5" height="71" fill="#980c0c"/><rect x="1249" y="204" width="3" height="69" fill="#f42a2a"/><rect x="1254" y="274" width="5" height="46" fill="#980c0c"/><rect x="1255" y="275" width="3" height="44" fill="#f42a2a"/><rect x="1259" y="286" width="5" height="34" fill="#0e7e0e"/><rect x="1260" y="287" width="3" height="32" fill="#14da14"/><rect x="1264" y="232" width="5" height="54" fill="#0e7e0e"/><rect x="1265" y="233" width="3" height="52" fill="#14da14"/><rect x="1269" y="232" width="5" height="2" fill="#980c0c"/><rect x="1274" y="219" width="5" height="20" fill="#0e7e0e"/><rect x="1275" y="220" width="3" height="18" fill="#14da14"/><rect x="1279" y="213" width="5" height="6" fill="#0e7e0e"/><rect x="1280" y="214" width="3" height="4" fill="#14da14"/><rect x="1284" y="202" width="5" height="11" fill="#0e7e0e"/><rect x="1285" y="203" width="3" height="9" fill="#14da14"/><rect x="1289" y="202" width="5" height="21" fill="#980c0c"/><rect x="1290" y="203" width="3" height="19" fill="#f42a2a"/><rect x="1294" y="178" width="5" height="45" fill="#0e7e0e"/><rect x="1295" y="179" width="3" height="43" fill="#14da14"/><rect x="1299" y="180" width="5" height="61" fill="#980c0c"/><rect x="1300" y="181" width="3" height="59" fill="#f42a2a"/><rect x="1304" y="236" width="5" height="5" fill="#0e7e0e"/><rect x="1305" y="237" width="3" height="3" fill="#14da14"/><rect x="1309" y="219" width="5" height="17" fill="#0e7e0e"/><rect x="1310" y="220" width="3" height="15" fill="#14da14"/><rect x="1314" y="217" width="5" height="2" fill="#0e7e0e"/><rect x="1320" y="217" width="5" height="51" fill="#980c0c"/><rect x="1321" y="218" width="3" height="49" fill="#f42a2a"/><rect x="1325" y="247" width="5" height="22" fill="#0e7e0e"/><rect x="1326" y="248" width="3" height="20" fill="#14da14"/><rect x="1330" y="247" width="5" height="30" fill="#980c0c"/><rect x="1331" y="248" width="3" height="28" fill="#f42a2a"/><rect x="1335" y="277" width="5" height="26" fill="#980c0c"/><rect x="1336" y="278" width="3" height="24" fill="#f42a2a"/><rect x="1340" y="298" width="5" height="5" fill="#0e7e0e"/><rect x="1341" y="299" width="3" height="3" fill="#14da14"/><rect x="1345" y="286" width="5" height="12" fill="#0e7e0e"/><rect x="1346" y="287" width="3" height="10" fill="#14da14"/><rect x="1350" y="280" width="5" height="4" fill="#0e7e0e"/><rect x="1351" y="281" width="3" height="2" fill="#14da14"/><rect x="1355" y="277" width="5" height="3" fill="#0e7e0e"/><rect x="1356" y="278" width="3" height="1" fill="#14da14"/><rect x="1360" y="240" width="5" height="37" fill="#0e7e0e"/><rect x="1361" y="241" width="3" height="35" fill="#14da14"/><rect x="1365" y="230" width="5" height="10" fill="#0e7e0e"/><rect x="1366" y="231" width="3" height="8" fill="#14da14"/><rect x="1370" y="230" width="5" height="100" fill="#980c0c"/><rect x="1371" y="231" width="3" height="98" fill="#f42a2a"/><rect x="1375" y="310" width="5" height="16" fill="#980c0c"/><rect x="1376" y="311" width="3" height="14" fill="#f42a2a"/><rect x="1380" y="324" width="5" height="30" fill="#980c0c"/><rect x="1381" y="325" width="3" height="28" fill="#f42a2a"/><rect x="1386" y="311" width="5" height="43" fill="#0e7e0e"/><rect x="1387" y="312" width="3" height="41" fill="#14da14"/><rect x="1391" y="311" width="5" height="74" fill="#980c0c"/><rect x="1392" y="312" width="3" height="72" fill="#f42a2a"/><rect x="1396" y="385" width="5" height="21" fill="#980c0c"/><rect x="1397" y="386" width="3" height="19" fill="#f42a2a"/><rect x="1401" y="388" width="5" height="21" fill="#0e7e0e"/><rect x="1402" y="389" width="3" height="19" fill="#14da14"/><rect x="1406" y="388" width="5" height="18" fill="#980c0c"/><rect x="1407" y="389" width="3" height="16" fill="#f42a2a"/><rect x="1411" y="384" width="5" height="22" fill="#0e7e0e"/><rect x="1412" y="385" width="3" height="20" fill="#14da14"/><rect x="1416" y="384" width="5" height="4" fill="#980c0c"/><rect x="1417" y="385" width="3" height="2" fill="#f42a2a"/><rect x="1421" y="369" width="5" height="18" fill="#0e7e0e"/><rect x="1422" y="370" width="3" height="16" fill="#14da14"/><rect x="1426" y="342" width="5" height="28" fill="#0e7e0e"/><rect x="1427" y="343" width="3" height="26" fill="#14da14"/><rect x="1431" y="342" width="5" height="31" fill="#980c0c"/><rect x="1432" y="343" width="3" height="29" fill="#f42a2a"/><rect x="1436" y="373" width="5" height="9" fill="#980c0c"/><rect x="1437" y="374" width="3" height="7" fill="#f42a2a"/><rect x="1441" y="382" width="5" height="2" fill="#980c0c"/><rect x="1446" y="366" width="5" height="16" fill="#0e7e0e"/><rect x="1447" y="367" width="3" height="14" fill="#14da14"/><rect x="1452" y="325" width="5" height="35" fill="#0e7e0e"/><rect x="1453" y="326" width="3" height="33" fill="#14da14"/><rect x="1457" y="290" width="5" height="35" fill="#0e7e0e"/><rect x="1458" y="291" width="3" height="33" fill="#14da14"/><rect x="1462" y="290" width="5" height="65" fill="#980c0c"/><rect x="1463" y="291" width="3" height="63" fill="#f42a2a"/><rect x="1467" y="347" width="5" height="7" fill="#0e7e0e"/><rect x="1468" y="348" width="3" height="5" fill="#14da14"/><rect x="1472" y="334" width="5" height="13" fill="#0e7e0e"/><rect x="1473" y="335" width="3" height="11" fill="#14da14"/></g>
<path d="M545 494.5 L1601.5 412.2" stroke="#000" stroke-width="1.1" fill="none"/>
<path d="M1499.5 360.3 L1520.6 399.3" stroke="#000" stroke-width="2.2" fill="none"/>
<path d="M1525.2 407.9 L1513.6 400.6 L1524.6 393.8 Z" fill="#000"/>
<path d="M1535.8 408.3 L1624.5 257.5" stroke="#000" stroke-width="2.2" fill="none"/>
<path d="M1631.3 246.2 L1630.7 259.4 L1620.2 251.4 Z" fill="#000"/>
<path d="M730 456.5 h6 v8 h3 l-6 6 l-6 -6 h3 z" fill="#f00a0a" stroke="#a00000" stroke-width="0.8"/><path d="M862 443 h6 v8 h3 l-6 6 l-6 -6 h3 z" fill="#f00a0a" stroke="#a00000" stroke-width="0.8"/><path d="M958 401 h6 v8 h3 l-6 6 l-6 -6 h3 z" fill="#f00a0a" stroke="#a00000" stroke-width="0.8"/><path d="M1136 399.5 h6 v8 h3 l-6 6 l-6 -6 h3 z" fill="#f00a0a" stroke="#a00000" stroke-width="0.8"/><path d="M1408 433 l6 6 h-3 v7.5 h-6 v-7.5 h-3 z" fill="#33b033" stroke="#187818" stroke-width="0.8"/><path d="M1530 420.3 l6 6 h-3 v7.5 h-6 v-7.5 h-3 z" fill="#33b033" stroke="#187818" stroke-width="0.8"/>
<path d="M2.86 946.22 L12.5 940.51 L22.5 947.33 L27.5 936.54 L32.5 938.29 L37.5 929.88 L42.5 935.12 L47.5 917.51 L52.5 917.51 L62.5 921.47 L73.5 890.69 L83.5 908.14 L93.5 893.39 L98.5 895.45 L108.5 881.17 L118.5 892.28 L123.5 891.01 L128.5 876.73 L133.5 888.15 L144.5 881.17 L149.5 879.59 L154.5 876.73 L164.5 918.3 L169.5 917.19 L174.5 909.26 L179.5 906.08 L189.5 888.63 L194.5 894.18 L199.5 904.97 L205.5 892.6 L210.5 888.63 L215.5 890.69 L220.5 903.38 L225.5 907.19 L235.5 913.22 L240.5 909.73 L250.5 921.95 L255.5 936.23 L260.5 918.77 L265.5 925.12 L271.5 917.66 L276.5 921.47 L281.5 931.94 L286.5 928.77 L296.5 946.22 L301.5 945.27 L306.5 937.34 L311.5 940.99 L316.5 943.37 L321.5 941.46 L326.5 942.57 L331.5 927.5 L337.5 919.57 L342.5 921.47 L347.5 914.49 L352.5 901.32 L357.5 898.63 L362.5 908.46 L367.5 913.54 L372.5 913.54 L377.5 915.13 L382.5 901.8 L387.5 918.3 L392.5 912.43 L397.5 917.19 L403.5 908.46 L408.5 909.26 L413.5 909.26 L418.5 910.37 L423.5 916.39 L428.5 914.49 L433.5 905.29 L438.5 905.29 L443.5 903.38 L448.5 911.32 L453.5 898.63 L458.5 919.25 L463.5 925.12 L469.5 915.6 L474.5 928.29 L479.5 923.06 L489.5 904.02 L494.5 893.87 L499.5 908.46 L504.5 914.49 L509.5 915.13 L514.5 906.56 L519.5 913.54 L524.5 925.91 L529.5 931.94 L535.5 935.12 L540.5 936.23 L545.5 937.34 L550.5 940.19 L555.5 944.64 L560.5 950.03 L565.5 940.51 L570.5 943.37 L575.5 944.64 L580.5 940.51 L585.5 937.34 L590.5 942.57 L595.5 942.57 L601.5 925.12 L606.5 919.57 L611.5 922.42 L616.5 909.26 L621.5 910.37 L626.5 923.06 L631.5 915.6 L636.5 915.6 L641.5 917.66 L646.5 916.71 L651.5 938.29 L656.5 917.66 L661.5 901.32 L667.5 898.63 L672.5 890.69 L677.5 889.42 L682.5 891.33 L687.5 885.93 L692.5 884.35 L697.5 892.91 L702.5 911.32 L707.5 898.94 L717.5 881.17 L722.5 880.7 L727.5 886.57 L733.5 884.35 L738.5 903.38 L743.5 912.43 L748.5 918.3 L753.5 908.78 L758.5 917.66 L763.5 915.6 L768.5 921.15 L773.5 916.71 L778.5 917.66 L783.5 924.01 L788.5 930.67 L793.5 938.29 L799.5 940.51 L804.5 935.12 L809.5 945.27 L814.5 941.46 L819.5 942.57 L824.5 947.33 L829.5 944.64 L834.5 918.77 L839.5 909.26 L844.5 897.67 L849.5 892.91 L854.5 903.38 L859.5 896.09 L865.5 889.74 L870.5 896.09 L875.5 902.43 L880.5 899.74 L885.5 897.36 L890.5 911.32 L895.5 913.54 L900.5 913.54 L905.5 912.43 L910.5 913.54 L915.5 911.63 L920.5 916.08 L925.5 894.5 L931.5 893.39 L936.5 904.97 L941.5 908.14 L946.5 902.12 L951.5 898.63 L956.5 904.02 L961.5 891.8 L966.5 904.5 L971.5 912.9 L976.5 925.6 L981.5 923.53 L986.5 924.33 L991.5 919.57 L997.5 927.18 L1002.5 924.64 L1007.5 931.47 L1012.5 933.53 L1017.5 934.64 L1022.5 925.6 L1027.5 918.3 L1032.5 923.06 L1037.5 921.15 L1042.5 910.37 L1047.5 923.06 L1052.5 918.3 L1058.5 933.05 L1063.5 934.64 L1068.5 933.05 L1073.5 912.9 L1078.5 920.36 L1083.5 911.63 L1088.5 907.67 L1093.5 902.43 L1098.5 896.56 L1103.5 910.37 L1108.5 908.46 L1113.5 913.22 L1118.5 901.32 L1124.5 906.08 L1129.5 898.15 L1134.5 892.6 L1139.5 891.33 L1144.5 895.45 L1149.5 895.45 L1154.5 892.28 L1159.5 897.36 L1174.5 923.06 L1179.5 898.39 L1184.5 899.74 L1190.5 890.69 L1195.5 889.42 L1200.5 893.39 L1205.5 882.28 L1210.5 873.56 L1215.5 874.35 L1220.5 867.21 L1225.5 861.18 L1230.5 861.18 L1235.5 877.52 L1240.5 874.83 L1245.5 866.42 L1250.5 893.39 L1256.5 906.08 L1261.5 898.94 L1266.5 890.69 L1271.5 891.8 L1276.5 888.63 L1281.5 887.52 L1286.5 885.46 L1291.5 892.91 L1296.5 885.46 L1301.5 904.5 L1306.5 903.38 L1311.5 899.26 L1316.5 899.26 L1322.5 914.01 L1327.5 909.26 L1337.5 924.64 L1342.5 922.42 L1347.5 919.57 L1352.5 917.66 L1357.5 916.71 L1362.5 906.08 L1367.5 903.38 L1372.5 931.47 L1377.5 930.67 L1382.5 936.23 L1388.5 924.64 L1393.5 939.4 L1398.5 943.68 L1403.5 937.34 L1408.5 940.99 L1413.5 934.64 L1418.5 935.43 L1423.5 929.09 L1428.5 921.47 L1433.5 929.09 L1438.5 931.47 L1443.5 931.47 L1448.5 926.23 L1459.5 904.5 L1464.5 922.42 L1469.5 920.36 L1474.5 916.71" stroke="#111" stroke-width="1.1" fill="none" stroke-linejoin="round"/>
</svg>
<svg class="ui" width="1891" height="1039" viewBox="0 0 1891 1039">
<defs>
<linearGradient id="tbg" x1="0" y1="0" x2="0" y2="1"><stop offset="0" stop-color="#ffffff"/><stop offset="1" stop-color="#e9e9e9"/></linearGradient>
<linearGradient id="btn" x1="0" y1="0" x2="0" y2="1"><stop offset="0" stop-color="#fafafa"/><stop offset="1" stop-color="#e4e4e4"/></linearGradient>
</defs>
<!-- top bar -->
<rect x="0" y="0" width="1891" height="25" fill="url(#tbg)"/>
<rect x="1812" y="1" width="23" height="24" fill="#fff"/>
<g shape-rendering="crispEdges">
<path d="M0 0.5H1891" stroke="#7a7a7a"/>
<path d="M0 25.5H1891" stroke="#6e6e6e"/>
<path d="M14.5 1V25M81.5 1V25M110.5 1V25M152.5 1V25M238.5 1V25M253.5 1V25M1811.5 1V25M1835.5 1V25" stroke="#9a9a9a"/>
</g>
<!-- link icon -->
<circle cx="5.5" cy="18.3" r="3.6" fill="none" stroke="#555" stroke-width="1"/>
<circle cx="5.5" cy="8.8" r="3.9" fill="none" stroke="#333" stroke-width="1.1"/>
<rect x="4.5" y="7" width="2" height="10.5" rx="1" fill="#fff" stroke="#333" stroke-width="1"/>
<path d="M3.3 19.3 L5.8 23 L10.8 16.5" stroke="#fff" stroke-width="3.2" fill="none"/>
<path d="M3.3 19.3 L5.8 23 L10.8 16.5" stroke="#2b55c0" stroke-width="2" fill="none"/>
<text x="19" y="17" class="b" textLength="45.2" lengthAdjust="spacingAndGlyphs">USDCAD</text>
<path d="M68.5 11.5 L71.7 14.5 L74.9 11.5" stroke="#000" stroke-width="1.6" fill="none"/>
<text x="87.5" y="17" class="b">D</text>
<path d="M99.8 11.5 L103 14.5 L106.2 11.5" stroke="#000" stroke-width="1.6" fill="none"/>
<text x="116" y="17" class="b" textLength="21" lengthAdjust="spacingAndGlyphs">1kU</text>
<path d="M141.7 11.5 L144.9 14.5 L148.1 11.5" stroke="#000" stroke-width="1.6" fill="none"/>
<!-- indicator icon -->
<g>
<rect x="159" y="17" width="3.5" height="5.7" fill="#14b814"/>
<rect x="162.5" y="19" width="3.1" height="3.7" fill="#e0804c"/>
<rect x="165.6" y="20" width="2.7" height="2.7" fill="#2aa82a"/>
<rect x="168.3" y="18" width="3.2" height="4.7" fill="#28b428"/>
<rect x="171.5" y="19" width="2.7" height="3.7" fill="#e0804c"/>
<rect x="174.2" y="17" width="3.6" height="5.7" fill="#20b820"/>
<path d="M159 17.5H177.8M162.5 19.5H165.6M171.5 19.5H174.2" stroke="#0d6d1d" stroke-width="0.8"/>
<path d="M159 22.5H177.8" stroke="#1a3a8a" stroke-width="0.8"/>
<path d="M159.2 12.2 C160.5 8.5,164 7.5,167.4 9.5 S175 12,177.6 12.6" stroke="#a85050" stroke-width="1.4" fill="none"/>
<path d="M159.1 7.5 C160.5 3.2,164.5 2.5,167.4 9.3 S174 18.5,177.6 6.4" stroke="#2f8a3f" stroke-width="1.5" fill="none"/>
<path d="M159.1 7.5 C160.5 3.2,164.5 2.5,167.4 9.3 S174 18.5,177.6 6.4" stroke="#b0f0b0" stroke-width="0.5" fill="none"/>
</g>
<text x="183.2" y="17" class="b" textLength="51.5" lengthAdjust="spacingAndGlyphs">Indicatori</text>
<path d="M242.5 11.5 L245.7 14.5 L248.9 11.5" stroke="#000" stroke-width="1.6" fill="none"/>
<!-- info -->
<rect x="261.5" y="6.5" width="11" height="11" fill="#fff" stroke="#8a8a8a"/>
<circle cx="266.9" cy="8.9" r="1.15" fill="#888"/><path d="M265.3 11.1H268V15.1H268.7V15.9H265.1V15.1H265.9V11.9H265.3Z" fill="#808080"/>
<text x="280.3" y="15.8" textLength="72" lengthAdjust="spacingAndGlyphs">Spot USD/CAD</text>
<text x="355.3" y="15.8" class="b" style="fill:#2e8e3c" textLength="32.4" lengthAdjust="spacingAndGlyphs">1,3467</text>
<rect x="392.2" y="5.2" width="41.4" height="14.5" rx="2" fill="#55e455"/>
<text x="395.1" y="15.8" style="fill:#eefff0" textLength="35.6" lengthAdjust="spacingAndGlyphs">+0,23%</text>
<text x="438" y="15.8" class="b">2 dic 2022</text>
<circle cx="500" cy="13" r="3.3" fill="none" stroke="#666" stroke-width="1"/>
<!-- refresh icon -->
<path d="M1825 6 C1820 5,1817 8,1818 12" stroke="#e64a4a" stroke-width="2.4" fill="none"/>
<path d="M1814 11.5 L1822 11.5 L1818 16 Z" fill="#e83a3a"/>
<path d="M1820.5 20 C1826 21,1829 18,1828 13" stroke="#1f9a1f" stroke-width="2.4" fill="none"/>
<path d="M1824 13.5 L1832 13.5 L1828 8.5 Z" fill="#14b414"/>
<!-- window buttons -->
<path d="M1841 17.5H1851" stroke="#9a9a9a" stroke-width="1.6"/>
<rect x="1857.5" y="11.5" width="6" height="6" fill="none" stroke="#9a9a9a" stroke-width="1.2"/>
<path d="M1859.5 11.5V9H1866.5V15H1863.5" fill="none" stroke="#9a9a9a" stroke-width="1.2"/>
<path d="M1873.5 8.5L1882.5 17M1882.5 8.5L1873.5 17" stroke="#a0a0a0" stroke-width="1.8"/>

<!-- trading panel -->
<g>
<rect x="671.5" y="33.5" width="17" height="17" rx="2.5" fill="#f3f3f3" stroke="#b0b0b0"/>
<path d="M674.3 45.1 L678.6 40.8 V37.3 L679.6 36.3 H682.6 V39.8 H684.9 L685.7 39.2 V41.6 L684.6 43.5 H680.7 L676.4 47.5 H675 L674.2 46.3 Z" fill="#fff" stroke="#111" stroke-width="1.1" stroke-linejoin="round"/>
<rect x="671.3" y="54.3" width="17.5" height="13.3" rx="2.5" fill="#c2c2c2"/>
<g fill="#fff"><rect x="673" y="57.2" width="2" height="1.8"/><rect x="676.1" y="57.2" width="2" height="1.8"/><rect x="679.2" y="57.2" width="1.8" height="1.8"/><rect x="682.1" y="57.2" width="1.8" height="1.8"/><rect x="685.1" y="57.2" width="2" height="1.8"/><rect x="673" y="60.2" width="2" height="1.8"/><rect x="676.1" y="60.2" width="2" height="1.8"/><rect x="679.2" y="60.2" width="1.8" height="1.8"/><rect x="682.1" y="60.2" width="1.8" height="1.8"/><rect x="685.1" y="60.2" width="2" height="1.8"/><rect x="676.1" y="64.1" width="7.7" height="1.7"/></g>
<text x="692.5" y="36" textLength="52.2" lengthAdjust="spacingAndGlyphs">Qtà x1.000</text>
<rect x="695.5" y="41.5" width="45" height="21" rx="2" fill="#fff" stroke="#c8c8c8"/>
<text x="737" y="56" text-anchor="end">1</text>
<path d="M745 51.8H758" stroke="#a0a0a0" stroke-width="2"/>
<circle cx="751.4" cy="47.6" r="3.7" fill="none" stroke="#555" stroke-width="1.3"/>
<circle cx="751.4" cy="56.3" r="3.7" fill="none" stroke="#555" stroke-width="1.3"/>
<rect x="750.2" y="45.4" width="2.4" height="13.2" rx="1.2" fill="#fff" stroke="#555" stroke-width="1"/>
<text x="760.4" y="36" textLength="47.5" lengthAdjust="spacingAndGlyphs">Pip (CAD)</text>
<rect x="764.5" y="41.5" width="37" height="21" rx="2" fill="#fff" stroke="#c8c8c8"/>
<text x="796.5" y="56" text-anchor="end">0.1</text>
<path d="M813.5 33V62M850.5 33V62M885.5 33V62" stroke="#c8c8c8"/>
<text x="818.2" y="36" textLength="27.7" lengthAdjust="spacingAndGlyphs">Limite</text>
<rect x="818.5" y="40.5" width="27" height="27" rx="2" fill="url(#btn)" stroke="#c4c4c4"/>
<text x="858.2" y="36" textLength="21.7" lengthAdjust="spacingAndGlyphs">Stop</text>
<rect x="854.5" y="40.5" width="27" height="27" rx="2" fill="url(#btn)" stroke="#c4c4c4"/>
<!-- order icons -->
<path d="M821.5 43.5H834.5L838 47V62.5H821.5Z" fill="#fff" stroke="#6a6a6a"/>
<path d="M834.5 43.5V47H838" fill="#eee" stroke="#6a6a6a"/>
<path d="M825.4 43.6H827.8V48.3H830.1L826.6 51.9L823.1 48.3H825.4Z" fill="#e03434"/>
<path d="M826.6 53L830.1 56.6H827.8V60.6H825.4V56.6H823.1Z" fill="#1fa81f"/>
<rect x="831.5" y="53.5" width="11" height="11" fill="#f2f2f2" stroke="#666"/>
<path d="M831.5 58.8H842.5" stroke="#666" stroke-width="1.6"/>
<g transform="translate(36,0)">
<path d="M821.5 43.5H834.5L838 47V62.5H821.5Z" fill="#fff" stroke="#6a6a6a"/>
<path d="M834.5 43.5V47H838" fill="#eee" stroke="#6a6a6a"/>
<path d="M826.6 43.6L830.1 47.2H827.8V51.9H825.4V47.2H823.1Z" fill="#1fa81f"/>
<path d="M825.4 53H827.8V57H830.1L826.6 60.6L823.1 57H825.4Z" fill="#e03434"/>
<rect x="831.5" y="53.5" width="11" height="11" fill="#f2f2f2" stroke="#666"/>
<path d="M831.5 58.8H842.5" stroke="#666" stroke-width="1.6"/>
</g>
<text x="892.4" y="36" textLength="66.4" lengthAdjust="spacingAndGlyphs">Vendere MKT</text>
<rect x="889" y="40" width="70.5" height="27.5" rx="2" fill="#e84646"/>
<text x="901" y="60.6" style="font-size:11px;fill:#fff">1,3</text>
<text x="916.9" y="60.6" style="font-size:20.7px;fill:#fff">46</text>
<text x="940.5" y="51.7" style="font-size:8.5px;fill:#fff">7</text>
<text x="964.4" y="36" textLength="72" lengthAdjust="spacingAndGlyphs">Comprare MKT</text>
<rect x="963" y="40" width="71" height="27.5" rx="2" fill="#37b037"/>
<text x="975" y="60.6" style="font-size:11px;fill:#fff">1,3</text>
<text x="990.9" y="60.6" style="font-size:20.7px;fill:#fff">46</text>
<text x="1014.5" y="51.7" style="font-size:8.5px;fill:#fff">7</text>
<path d="M1039.5 26V78" stroke="#b0b0b0"/>
<rect x="1044.5" y="34.5" width="11" height="11" rx="1.5" fill="#fff" stroke="#b8b8b8"/>
<text x="1059.5" y="43.5">T</text>
<rect x="1071.5" y="28.5" width="18" height="21" rx="2" fill="#fff" stroke="#d0d0d0"/>
<text x="1073.5" y="43.5" style="fill:#b0b0b0">10</text>
<text x="1092.5" y="42.5">pip</text>
<rect x="1044.5" y="57.5" width="11" height="11" rx="1.5" fill="#fff" stroke="#b8b8b8"/>
<text x="1060" y="66.5">S</text>
<rect x="1071.5" y="51.5" width="18" height="21" rx="2" fill="#fff" stroke="#d0d0d0"/>
<text x="1073.5" y="66.5" style="fill:#b0b0b0">10</text>
<text x="1092.5" y="65.5">pip</text>
<rect x="1111.5" y="26" width="2.2" height="52" fill="#a8a8a8"/>
<text x="1118.3" y="36" textLength="58.2" lengthAdjust="spacingAndGlyphs">Perdita CAD</text>
<rect x="1118.5" y="41.5" width="57" height="21" rx="2" fill="#fff" stroke="#c8c8c8"/>
<text x="1171.5" y="56" text-anchor="end">100</text>
<text x="1181.3" y="37" textLength="41.4" lengthAdjust="spacingAndGlyphs">Qtà auto</text>
<rect x="1187.5" y="40.5" width="27" height="27" rx="2" fill="url(#btn)" stroke="#c4c4c4"/>
<g>
<path d="M1190.5 43.5H1203.5L1207 47V62.5H1190.5Z" fill="#fff" stroke="#6a6a6a"/>
<path d="M1203.5 43.5V47H1207" fill="#eee" stroke="#6a6a6a"/>
<path d="M1194.4 43.6H1196.8V48.3H1199.1L1195.6 51.9L1192.1 48.3H1194.4Z" fill="#e03434"/>
<path d="M1195.6 53L1199.1 56.6H1196.8V60.6H1194.4V56.6H1192.1Z" fill="#1fa81f"/>
<rect x="1200.5" y="53.5" width="11" height="8.5" fill="#f2f2f2" stroke="#666"/>
<path d="M1203.3 55.3L1208.7 60.2M1208.7 55.3L1203.3 60.2" stroke="#666" stroke-width="1"/>
<path d="M1200.5 63.5H1211.5" stroke="#888" stroke-width="1"/>
</g>
</g>

<!-- legend bar -->
<g shape-rendering="crispEdges">
<rect x="3" y="79" width="508" height="16" fill="#f4f4f4"/>
<path d="M3 95.5H511M510.5 79V95.5M36.5 79V95M90.5 79V95M109.5 79V95M175.5 79V95M247.5 79V95M319.5 79V95M384.5 79V95M450.5 79V95" stroke="#c0c0c0"/>
<rect x="3" y="96" width="146" height="16" fill="#fcfcfc"/>
<path d="M149.5 96V112.5M3 112.5H150" stroke="#b4b4b4"/>
<path d="M5.5 81.5H15L17.5 84V92.5H5.5Z" fill="#fafafa" stroke="#9aaac8"/>
<path d="M21.5 81.5H31L33.5 84V92.5H21.5Z" fill="#fafafa" stroke="#9aaac8"/>
<rect x="40" y="82" width="5" height="9.5" fill="#1fbf1f"/><rect x="45" y="82" width="5" height="9.5" fill="#f02020"/>
<rect x="113.5" y="82.5" width="9" height="9" fill="#fff" stroke="#bbb"/>
<rect x="179.5" y="82.5" width="9" height="9" fill="#fff" stroke="#bbb"/>
<rect x="251.5" y="82.5" width="9" height="9" fill="#fff" stroke="#bbb"/>
<rect x="323.5" y="82.5" width="9" height="9" fill="#fff" stroke="#bbb"/>
<rect x="388.5" y="82.5" width="9" height="9" fill="#fff" stroke="#bbb"/>
<rect x="454.5" y="82.5" width="9" height="9" fill="#fff" stroke="#bbb"/>
<g fill="#111"><rect x="95" y="83" width="2" height="2"/><rect x="95" y="86" width="2" height="2"/><rect x="95" y="89" width="2" height="2"/><rect x="98" y="83.5" width="7" height="1.2"/><rect x="98" y="86.5" width="7" height="1.2"/><rect x="98" y="89.5" width="7" height="1.2"/></g>
</g>
<path d="M10.1 84H12.3V86.7H14.8L11.2 90.6L7.4 86.7H10.1Z" fill="#e23838" stroke="#c02020" stroke-width="0.5"/>
<path d="M25.7 90.8H28.1V87.6H30.8L26.9 83.9L23 87.6H25.7Z" fill="#2ea02e" stroke="#1d8a1d" stroke-width="0.5"/>
<text x="54" y="90">Prezzo</text>
<text x="127" y="90">SMA (21)</text>
<text x="193" y="90">SMA (200)</text>
<text x="265" y="90">SMA (200)</text>
<text x="337" y="90">EMA (21)</text>
<text x="402" y="90">SMA (50)</text>
<text x="468" y="90">SMA (8)</text>
<text x="6" y="107" textLength="141.3" lengthAdjust="spacingAndGlyphs">Anno:Max 1,3978 Min 1,2403</text>

<!-- chart annotations -->
<rect x="982.5" y="161.5" width="140" height="53" rx="3" fill="#fff" stroke="#7f9ad8"/>
<text x="987" y="196" style="font-size:31px" textLength="129.6" lengthAdjust="spacingAndGlyphs">USDCAD</text>
<rect x="1144.5" y="581.5" width="415" height="44" rx="2" fill="#fff" stroke="#7f9ad8"/>
<text x="1352.4" y="599" text-anchor="middle" style="font-size:14px" textLength="407" lengthAdjust="spacingAndGlyphs">PATTERN ENGULFING E ATTENDIAMO ULTERIORE TEST DEL</text>
<text x="1352" y="616" text-anchor="middle" style="font-size:14px">TAGLIO A 1.3250 PER IL LONG</text>

<text x="5.2" y="802" textLength="153.5" lengthAdjust="spacingAndGlyphs">ProRealTime.com - Fine giornata</text>
<rect x="2.5" y="804.5" width="58.8" height="17" fill="#f7f7f7" stroke="#b4b4b4"/>
<rect x="6" y="808.3" width="10" height="9.5" fill="#000"/>
<text x="19.6" y="816" textLength="40.6" lengthAdjust="spacingAndGlyphs">RSI (14)</text>
<rect x="1853.5" y="909.5" width="36" height="15" fill="#ececec" stroke="#c8c8c8"/>
<path d="M1848 916.5H1852" stroke="#000"/>
<text x="1855" y="921">50,657</text>
<rect x="1864.5" y="1022.5" width="25" height="16" fill="#fff" stroke="#909090"/>
<path d="M1874.5 1033 V1027 M1871.5 1029 L1874.5 1025 L1877.5 1029" stroke="#2456c8" stroke-width="2" fill="none"/>
<rect x="1868.5" y="1032.5" width="14" height="5" fill="#fff" stroke="#666"/>
<g fill="#111"><rect x="1870" y="1034" width="2" height="2"/><rect x="1873" y="1034" width="2" height="2"/><rect x="1876" y="1034" width="2" height="2"/><rect x="1879" y="1034" width="2" height="2"/></g>
</svg>
</body></html>
